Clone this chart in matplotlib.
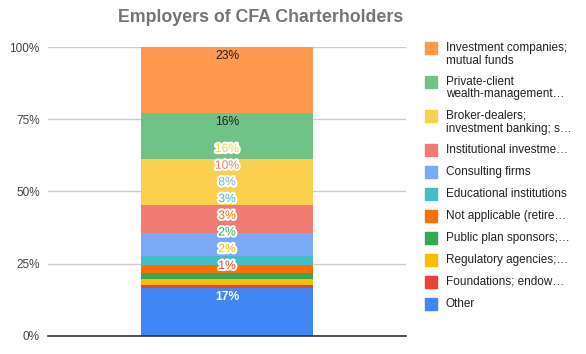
import matplotlib
matplotlib.use("Agg")
import matplotlib.pyplot as plt
import matplotlib.patheffects as pe
from matplotlib.patches import Rectangle

plt.rcParams['font.family'] = ['Liberation Sans', 'DejaVu Sans']

# donnees (de bas en haut dans la colonne empilee)
categories = ['Other', 'Foundations; endow…', 'Regulatory agencies;…',
              'Public plan sponsors;…', 'Not applicable (retire…',
              'Educational institutions', 'Consulting firms',
              'Institutional investme…', 'Broker-dealers;\ninvestment banking; s…',
              'Private-client\nwealth-management…',
              'Investment companies;\nmutual funds']
values = [16.6, 1.1, 2.0, 2.2, 2.7, 3.0, 8.0, 9.8, 16.0, 16.0, 22.9]
labels = ['17%', '1%', '2%', '2%', '3%', '3%', '8%', '10%', '16%', '16%', '23%']
colors = ['#4285F4', '#EA4335', '#FBBC04', '#34A853', '#FF6D01', '#46BDC6',
          '#7BAAF7', '#F07B72', '#FCD04F', '#71C287', '#FF994D']

total = sum(values)
pct = [v / total * 100 for v in values]

W, H = 586, 354
fig = plt.figure(figsize=(W / 100, H / 100), dpi=100)
ax = fig.add_axes([48 / W, (H - 335.5) / H, 358 / W, 288 / H])

# barres empilees
bottom = 0
tops = []
for p, c in zip(pct, colors):
    ax.bar(0, p, bottom=bottom, width=0.478, color=c, zorder=2)
    bottom += p
    tops.append(bottom)

ax.set_xlim(-0.5, 0.5)
ax.set_ylim(0, 100)
ax.set_yticks([0, 25, 50, 75, 100])
ax.set_yticklabels(['0%', '25%', '50%', '75%', '100%'])
ax.set_xticks([])
ax.tick_params(axis='y', length=0, pad=6, labelsize=8.5, labelcolor='#444444')
ax.grid(axis='y', color='#cccccc', linewidth=1, zorder=0)
for s in ['top', 'right', 'left']:
    ax.spines[s].set_visible(False)
ax.spines['bottom'].set_color('#333333')
ax.spines['bottom'].set_linewidth(1.2)

# etiquettes : en haut de chaque segment, poussees vers le haut si collision
offset, gap, first_gap = 3.1, 5.8, 7.6
prev_y, prev_top, prev_moved = None, None, False
for i in range(len(pct)):
    desired = tops[i] - offset
    y = desired
    if prev_y is not None:
        limit = prev_y + gap if prev_moved else prev_top + first_gap
        y = max(desired, limit)
    moved = y > desired + 1e-9
    c = colors[i]
    if moved:
        ax.text(0, y, labels[i], ha='center', va='center', fontsize=8.7,
                color=c, zorder=4,
                path_effects=[pe.withStroke(linewidth=3, foreground='white')])
    else:
        r, g, b = [int(c[k:k + 2], 16) for k in (1, 3, 5)]
        lum = 0.299 * r + 0.587 * g + 0.114 * b
        tc = 'white' if lum < 140 else '#222222'
        ax.text(0, y, labels[i], ha='center', va='center', fontsize=8.7,
                color=tc, fontweight='bold' if tc == 'white' else 'normal', zorder=4)
    prev_y, prev_top, prev_moved = y, tops[i], moved

# titre
fig.text(261 / W, 1 - 18 / H, 'Employers of CFA Charterholders', ha='center',
         va='center', fontsize=12.8, fontweight='bold', color='#757575')

# legende (ordre inverse : du haut vers le bas)
ypx = 48
for cat, c in zip(categories[::-1], colors[::-1]):
    lines = cat.split('\n')
    fig.patches.append(Rectangle((425 / W, 1 - (ypx + 6) / H), 12 / W, 12 / H,
                                 transform=fig.transFigure, color=c))
    for k, line in enumerate(lines):
        fig.text(446 / W, 1 - (ypx + k * 12.5) / H, line, ha='left', va='center',
                 fontsize=8.5, color='#222222')
    ypx += 22 + 12 * (len(lines) - 1)

fig.savefig('out.png', dpi=100)
